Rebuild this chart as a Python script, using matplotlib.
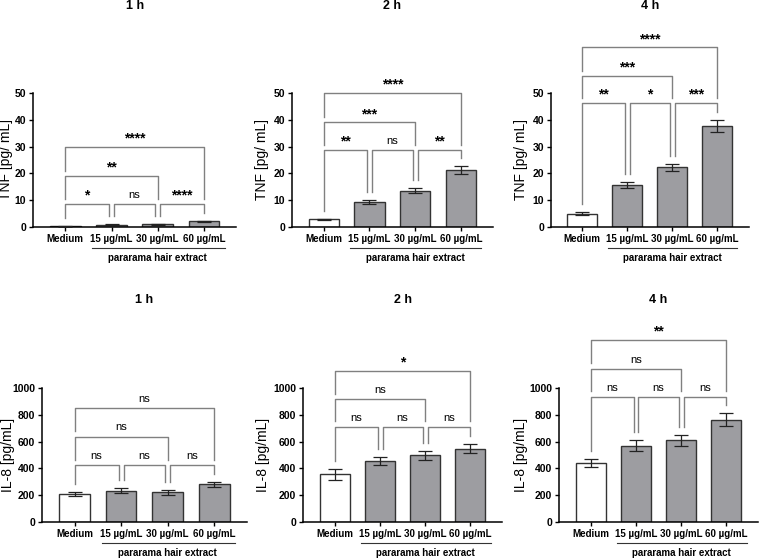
import matplotlib
matplotlib.use("Agg")
import matplotlib.pyplot as plt

plt.rcParams['font.family'] = ['Liberation Sans', 'DejaVu Sans']

groups = ['Medium', '15 µg/mL', '30 µg/mL', '60 µg/mL']
extract_label = 'pararama hair extract'

tnf_1h = [0.3, 0.8, 1.0, 2.1]
tnf_1h_err = [0.15, 0.15, 0.2, 0.25]
tnf_2h = [2.8, 9.3, 13.5, 21.2]
tnf_2h_err = [0.2, 0.9, 1.0, 1.5]
tnf_4h = [5.0, 15.6, 22.3, 37.7]
tnf_4h_err = [0.4, 1.1, 1.3, 2.3]

il8_1h = [212, 235, 222, 282]
il8_1h_err = [15, 15, 18, 18]
il8_2h = [355, 452, 497, 548]
il8_2h_err = [38, 30, 33, 35]
il8_4h = [437, 570, 610, 762]
il8_4h_err = [30, 40, 42, 48]

# comparisons: (bar a, bar b)
pairs = [(0, 1), (1, 2), (2, 3), (0, 2), (0, 3)]
sig_tnf_1h = ['*', 'ns', '****', '**', '****']
sig_tnf_2h = ['**', 'ns', '**', '***', '****']
sig_tnf_4h = ['**', '*', '***', '***', '****']
sig_il8_1h = ['ns', 'ns', 'ns', 'ns', 'ns']
sig_il8_2h = ['ns', 'ns', 'ns', 'ns', '*']
sig_il8_4h = ['ns', 'ns', 'ns', 'ns', '**']

# bracket heights (level 1, level 2, level 3)
lvl_tnf_1h = [8.6, 19.0, 30.0]
lvl_tnf_2h = [28.7, 39.0, 49.9]
lvl_tnf_4h = [46.2, 56.3, 67.0]
lvl_il8_1h = [425, 637, 848]
lvl_il8_2h = [711, 916, 1129]
lvl_il8_4h = [935, 1144, 1358]

# title, values, errors, labels, levels, ylabel, ymax, step, axes rect, ylabel offset (px)
panels = [
    ('1 h', tnf_1h, tnf_1h_err, sig_tnf_1h, lvl_tnf_1h, 'TNF [pg/ mL]', 50, 10, [0.0432, 0.594, 0.266, 0.2397], 20),
    ('2 h', tnf_2h, tnf_2h_err, sig_tnf_2h, lvl_tnf_2h, 'TNF [pg/ mL]', 50, 10, [0.382, 0.594, 0.263, 0.2397], 23),
    ('4 h', tnf_4h, tnf_4h_err, sig_tnf_4h, lvl_tnf_4h, 'TNF [pg/ mL]', 50, 10, [0.721, 0.594, 0.259, 0.2397], 23),
    ('1 h', il8_1h, il8_1h_err, sig_il8_1h, lvl_il8_1h, 'IL-8 [pg/mL]', 1000, 200, [0.055, 0.0662, 0.268, 0.2397], 27),
    ('2 h', il8_2h, il8_2h_err, sig_il8_2h, lvl_il8_2h, 'IL-8 [pg/mL]', 1000, 200, [0.397, 0.0662, 0.260, 0.2397], 33),
    ('4 h', il8_4h, il8_4h_err, sig_il8_4h, lvl_il8_4h, 'IL-8 [pg/mL]', 1000, 200, [0.732, 0.0662, 0.260, 0.2397], 31),
]

fig = plt.figure(figsize=(7.64, 5.59), dpi=100)
bcol = '#808080'
dx = 0.055

for title, vals, errs, sigs, lvls, ylab, ymax, ystep, pos, yoff in panels:
    ax = fig.add_axes(pos)
    x = list(range(len(vals)))
    colors = ['white', '#9d9da1', '#9d9da1', '#9d9da1']
    ax.bar(x, vals, width=0.66, color=colors, edgecolor='#333333', linewidth=1.0, zorder=2)
    ax.errorbar(x, vals, yerr=errs, fmt='none', ecolor='#222222', elinewidth=0.9,
                capsize=5, capthick=0.9, zorder=3)
    ax.set_xlim(-0.7, 3.7)
    ax.set_ylim(0, ymax)
    ax.set_yticks(range(0, ymax + 1, ystep))
    ax.set_xticks(x)
    ax.set_xticklabels(groups, fontsize=7, fontweight='bold')
    for lab in ax.get_yticklabels():
        lab.set_fontweight('bold')
        lab.set_fontsize(7.5)
    ax.tick_params(axis='both', length=3, width=1, pad=2)
    ax.spines['top'].set_visible(False)
    ax.spines['right'].set_visible(False)
    ax.spines['left'].set_linewidth(1.1)
    ax.spines['bottom'].set_linewidth(1.1)
    ax.set_ylabel(ylab, fontsize=10)
    ax.yaxis.set_label_coords(-yoff / (pos[2] * 764), 0.5)

    # subgroup label under the extract bars
    ax.plot([0.58, 3.45], [-0.155 * ymax, -0.155 * ymax], color='#333333', lw=0.8,
            clip_on=False)
    ax.text(2.0, -0.235 * ymax, extract_label, ha='center', va='center',
            fontsize=7, fontweight='bold')

    # title
    ty = 1 - 6 / 559 if pos[1] > 0.5 else 1 - 300 / 559
    fig.text(pos[0] + pos[2] / 2, ty, title, ha='center', va='center',
             fontsize=9, fontweight='bold')

    # significance brackets
    tops = [v + e for v, e in zip(vals, errs)]
    bar_gap = 0.06 * ymax
    br_gap = 0.04 * ymax
    levels = [lvls[0], lvls[0], lvls[0], lvls[1], lvls[2]]
    drawn = []
    for (a, b), s, h in zip(pairs, sigs, levels):
        xa, xb = float(a), float(b)
        if b - a == 1:
            if a > 0:
                xa += dx
            if b < 3:
                xb -= dx
        ends = []
        for xe, bi in ((xa, a), (xb, b)):
            bottom = tops[bi] + bar_gap
            for (l, r, hh) in drawn:
                if l - 0.1 <= xe <= r + 0.1 and hh < h:
                    bottom = max(bottom, hh + br_gap)
            ends.append(bottom)
        ax.plot([xa, xa, xb, xb], [ends[0], h, h, ends[1]], color=bcol, lw=1.0,
                clip_on=False, zorder=1)
        drawn.append((xa, xb, h))
        if s == 'ns':
            ax.annotate(s, ((xa + xb) / 2, h), xytext=(0, 3), textcoords='offset points',
                        ha='center', va='bottom', fontsize=8, annotation_clip=False)
        else:
            ax.annotate(s, ((xa + xb) / 2, h), xytext=(0, 1), textcoords='offset points',
                        ha='center', va='bottom', fontsize=10, fontweight='bold',
                        annotation_clip=False)

fig.savefig('out.png', dpi=100)
